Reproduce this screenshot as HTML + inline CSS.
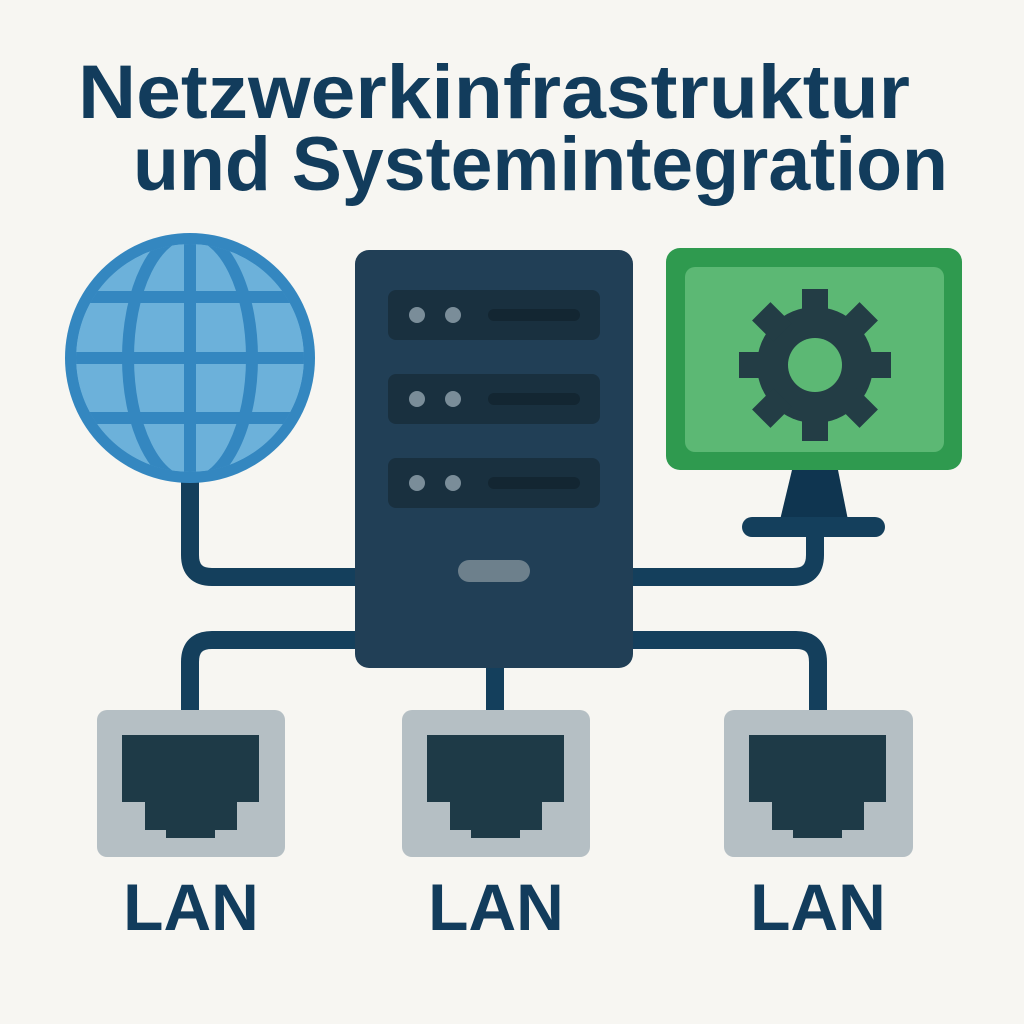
<!DOCTYPE html>
<html><head><meta charset="utf-8"><style>
html,body{margin:0;padding:0;background:#f7f6f2;}
svg{display:block}
</style></head><body>
<svg width="1024" height="1024" viewBox="0 0 1024 1024" xmlns="http://www.w3.org/2000/svg">
<rect width="1024" height="1024" fill="#f7f6f2"/>
<g font-family="Liberation Sans, sans-serif" font-weight="bold" fill="#123c5c">
<text x="78" y="118" font-size="76" textLength="832" lengthAdjust="spacingAndGlyphs">Netzwerkinfrastruktur</text>
<text x="133" y="190" font-size="76" textLength="815" lengthAdjust="spacingAndGlyphs">und Systemintegration</text>
<text x="191" y="930" font-size="66" text-anchor="middle">LAN</text>
<text x="496" y="930" font-size="66" text-anchor="middle">LAN</text>
<text x="818" y="930" font-size="66" text-anchor="middle">LAN</text>
</g>
<!-- connectors -->
<g fill="none" stroke="#143f5c" stroke-width="18">
<path d="M190 470 V555 Q190 577 212 577 H360"/>
<path d="M815 530 V555 Q815 577 793 577 H630"/>
<path d="M360 640 H212 Q190 640 190 662 V715"/>
<path d="M630 640 H796 Q818 640 818 662 V715"/>
<path d="M495 660 V715"/>
</g>
<!-- globe -->
<defs><clipPath id="gc"><circle cx="190" cy="358" r="114"/></clipPath></defs>
<circle cx="190" cy="358" r="125" fill="#3487c0"/>
<g clip-path="url(#gc)">
<circle cx="190" cy="358" r="114" fill="#6cb1da"/>
<g stroke="#3487c0" stroke-width="12" fill="none">
<line x1="60" y1="297" x2="320" y2="297"/>
<line x1="60" y1="358" x2="320" y2="358"/>
<line x1="60" y1="418" x2="320" y2="418"/>
<line x1="190" y1="230" x2="190" y2="490"/>
<ellipse cx="190" cy="358" rx="62" ry="125"/>
</g>
</g>
<!-- server -->
<rect x="355" y="250" width="278" height="418" rx="14" fill="#213f56"/>
<g fill="#19303f">
<rect x="388" y="290" width="212" height="50" rx="8"/>
<rect x="388" y="374" width="212" height="50" rx="8"/>
<rect x="388" y="458" width="212" height="50" rx="8"/>
</g>
<g fill="#7a8d99">
<circle cx="417" cy="315" r="8"/><circle cx="453" cy="315" r="8"/>
<circle cx="417" cy="399" r="8"/><circle cx="453" cy="399" r="8"/>
<circle cx="417" cy="483" r="8"/><circle cx="453" cy="483" r="8"/>
</g>
<g fill="#132632">
<rect x="488" y="309" width="92" height="12" rx="6"/>
<rect x="488" y="393" width="92" height="12" rx="6"/>
<rect x="488" y="477" width="92" height="12" rx="6"/>
</g>
<rect x="458" y="560" width="72" height="22" rx="11" fill="#6d808c"/>
<!-- monitor -->
<polygon points="792,470 838,470 848,520 780,520" fill="#0f3550"/>
<rect x="742" y="517" width="143" height="20" rx="10" fill="#143f5c"/>
<rect x="666" y="248" width="296" height="222" rx="14" fill="#2f9a4f"/>
<rect x="685" y="267" width="259" height="185" rx="10" fill="#5cb874"/>
<g transform="translate(815,365)" fill="#233d45">
<circle r="58"/>
<g id="t"><rect x="-13" y="-76" width="26" height="30"/></g>
<use href="#t" transform="rotate(45)"/><use href="#t" transform="rotate(90)"/><use href="#t" transform="rotate(135)"/>
<use href="#t" transform="rotate(180)"/><use href="#t" transform="rotate(225)"/><use href="#t" transform="rotate(270)"/><use href="#t" transform="rotate(315)"/>
<circle r="27" fill="#5cb874"/>
</g>
<!-- LAN boxes -->
<g>
<rect x="97" y="710" width="188" height="147" rx="10" fill="#b5bfc4"/>
<path d="M122 735 H259 V802 H237 V830 H215 V838 H166 V830 H145 V802 H122Z" fill="#1e3a47"/>
<rect x="402" y="710" width="188" height="147" rx="10" fill="#b5bfc4"/>
<path d="M427 735 H564 V802 H542 V830 H520 V838 H471 V830 H450 V802 H427Z" fill="#1e3a47"/>
<rect x="724" y="710" width="189" height="147" rx="10" fill="#b5bfc4"/>
<path d="M749 735 H886 V802 H864 V830 H842 V838 H793 V830 H772 V802 H749Z" fill="#1e3a47"/>
</g>
</svg>
</body></html>
